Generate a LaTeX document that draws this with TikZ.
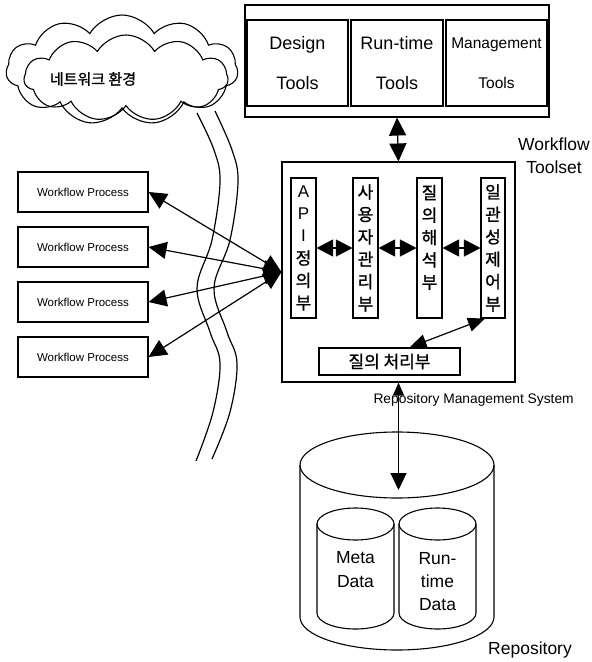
\documentclass[tikz,border=0pt]{standalone}
\usepackage{fontspec}
\setmainfont{Liberation Sans}
\newfontfamily\kr[FakeBold=1.2]{Noto Sans CJK KR}
\usetikzlibrary{arrows.meta,shapes.symbols}
\newcommand\setfs[2]{\fontsize{#1}{#2}\selectfont}
\newcommand\K[1]{{\kr #1}}
\tikzset{
  box/.style={draw, line width=1.1pt, inner sep=0pt},
  toolbox/.style={box, line width=1.3pt, minimum height=86pt, align=center, font=\setfs{18}{40}},
  column/.style={box, minimum width=25pt, minimum height=140pt, align=center, font=\kr\setfs{17}{22.4}},
  wpbox/.style={box, minimum width=130pt, minimum height=40pt, font=\setfs{11.5}{14}},
  dbl/.style={line width=1.2pt, {Triangle[length=18pt,width=17pt]}-{Triangle[length=18pt,width=17pt]}},
  dblcol/.style={line width=1.2pt, {Triangle[length=16.5pt,width=17pt]}-{Triangle[length=16.5pt,width=17pt]}},
  dblsmall/.style={line width=1.2pt, {Triangle[length=17pt,width=14pt]}-{Triangle[length=17pt,width=14pt]}},
  dblrepo/.style={line width=1.2pt, {Triangle[length=13pt,width=11pt]}-{Triangle[length=17pt,width=16pt]}},
  netline/.style={line width=1.2pt},
  cyl/.style={line width=1.1pt},
  netcloud/.style={draw, cloud, line width=1.1pt, cloud puffs=11, cloud puff arc=120, aspect=2.2, inner sep=0pt}
}
\begin{document}
\begin{tikzpicture}[x=1pt,y=-1pt]
\useasboundingbox (0,0) rectangle (592,662);

% network cloud
\node[netcloud, minimum width=232pt, minimum height=110pt] (cloudA) at (122,70) {};
\node[netcloud, minimum width=204pt, minimum height=86pt] (cloudB) at (126,78) {};
\node[font=\kr\setfs{15}{18}] (net) at (93,79) {네트워크 환경};

% network pipe
\draw[netline] plot[smooth, tension=0.6] coordinates
  {(197,113) (214,150) (220,182) (212,240) (197,288) (210,332) (220,363) (213,412) (196,461)};
\draw[netline] plot[smooth, tension=0.6] coordinates
  {(215,111) (232,150) (238,182) (230,240) (214,288) (227,332) (237,363) (230,412) (212,459)};

% tool set header
\node[box, minimum width=304pt, minimum height=112pt] (tools) at (397,61) {};
\node[toolbox, minimum width=101pt] (design) at (297.5,63) {Design\\Tools};
\node[toolbox, minimum width=92pt] (runtime) at (397,63) {Run-time\\Tools};
\node[toolbox, minimum width=101pt, font=\setfs{15.5}{40}] (mgmt) at (496.5,63) {Management\\Tools};

% workflow toolset
\node[box, minimum width=233pt, minimum height=220pt] (toolset) at (398.5,272) {};
\node[align=center, font=\setfs{17.5}{23}] (tslabel) at (554,156) {Workflow\\Toolset};

\node[column, font=\setfs{17}{22.4}] (api) at (303.5,248) {A\\P\\I\\\K{정}\\\K{의}\\\K{부}};
\node[column] (user) at (365.5,248) {사\\용\\자\\관\\리\\부};
\node[column] (parse) at (429.5,248) {질\\의\\해\\석\\부\\\mbox{}};
\node[column, minimum width=24pt] (cons) at (493,248) {일\\관\\성\\제\\어\\부};

\draw[dblcol] (api) -- (user);
\draw[dblcol] (user) -- (parse);
\draw[dblcol] (parse) -- (cons);

\node[box, minimum width=141pt, minimum height=27pt, font=\kr\setfs{17}{20}] (query) at (389.5,361.5) {질의 처리부};
\draw[dblsmall] ([xshift=20pt]query.north) -- ([xshift=-8pt]cons.south);

\draw[dbl] (tools.south) -- (toolset.north);

% workflow processes
\node[wpbox] (wp1) at (83,192) {Workflow Process};
\node[wpbox] (wp2) at (83,247) {Workflow Process};
\node[wpbox] (wp3) at (83,302) {Workflow Process};
\node[wpbox] (wp4) at (83,357) {Workflow Process};
\foreach \w in {wp1,wp2,wp3,wp4}
  \draw[dbl] (\w.east) -- (toolset.west);

% repository
\node[anchor=west, font=\setfs{13.8}{16}] (rms) at (370,400) {Repository Management System};
\coordinate (repotop) at (398.5,490);

\draw[cyl] (397,465) ellipse (97 and 33);
\draw[cyl] (300,465) -- (300,617) arc[start angle=180, end angle=0, x radius=97, y radius=33] -- (494,465);

\draw[cyl] (355.5,524) ellipse (38.5 and 16);
\draw[cyl] (317,524) -- (317,613) arc[start angle=180, end angle=0, x radius=38.5, y radius=16] -- (394,524);
\draw[cyl] (437.5,524) ellipse (38.5 and 16);
\draw[cyl] (399,524) -- (399,613) arc[start angle=180, end angle=0, x radius=38.5, y radius=16] -- (476,524);

\node[align=center, font=\setfs{17.5}{24}] (meta) at (355.5,570) {Meta\\Data};
\node[align=center, font=\setfs{17.5}{23}] (rdata) at (437.5,582) {Run-\\time\\Data};

\draw[dblrepo] (toolset.south) -- (repotop);

\node[font=\setfs{17.5}{20}] (repo) at (530,650) {Repository};
\end{tikzpicture}
\end{document}
